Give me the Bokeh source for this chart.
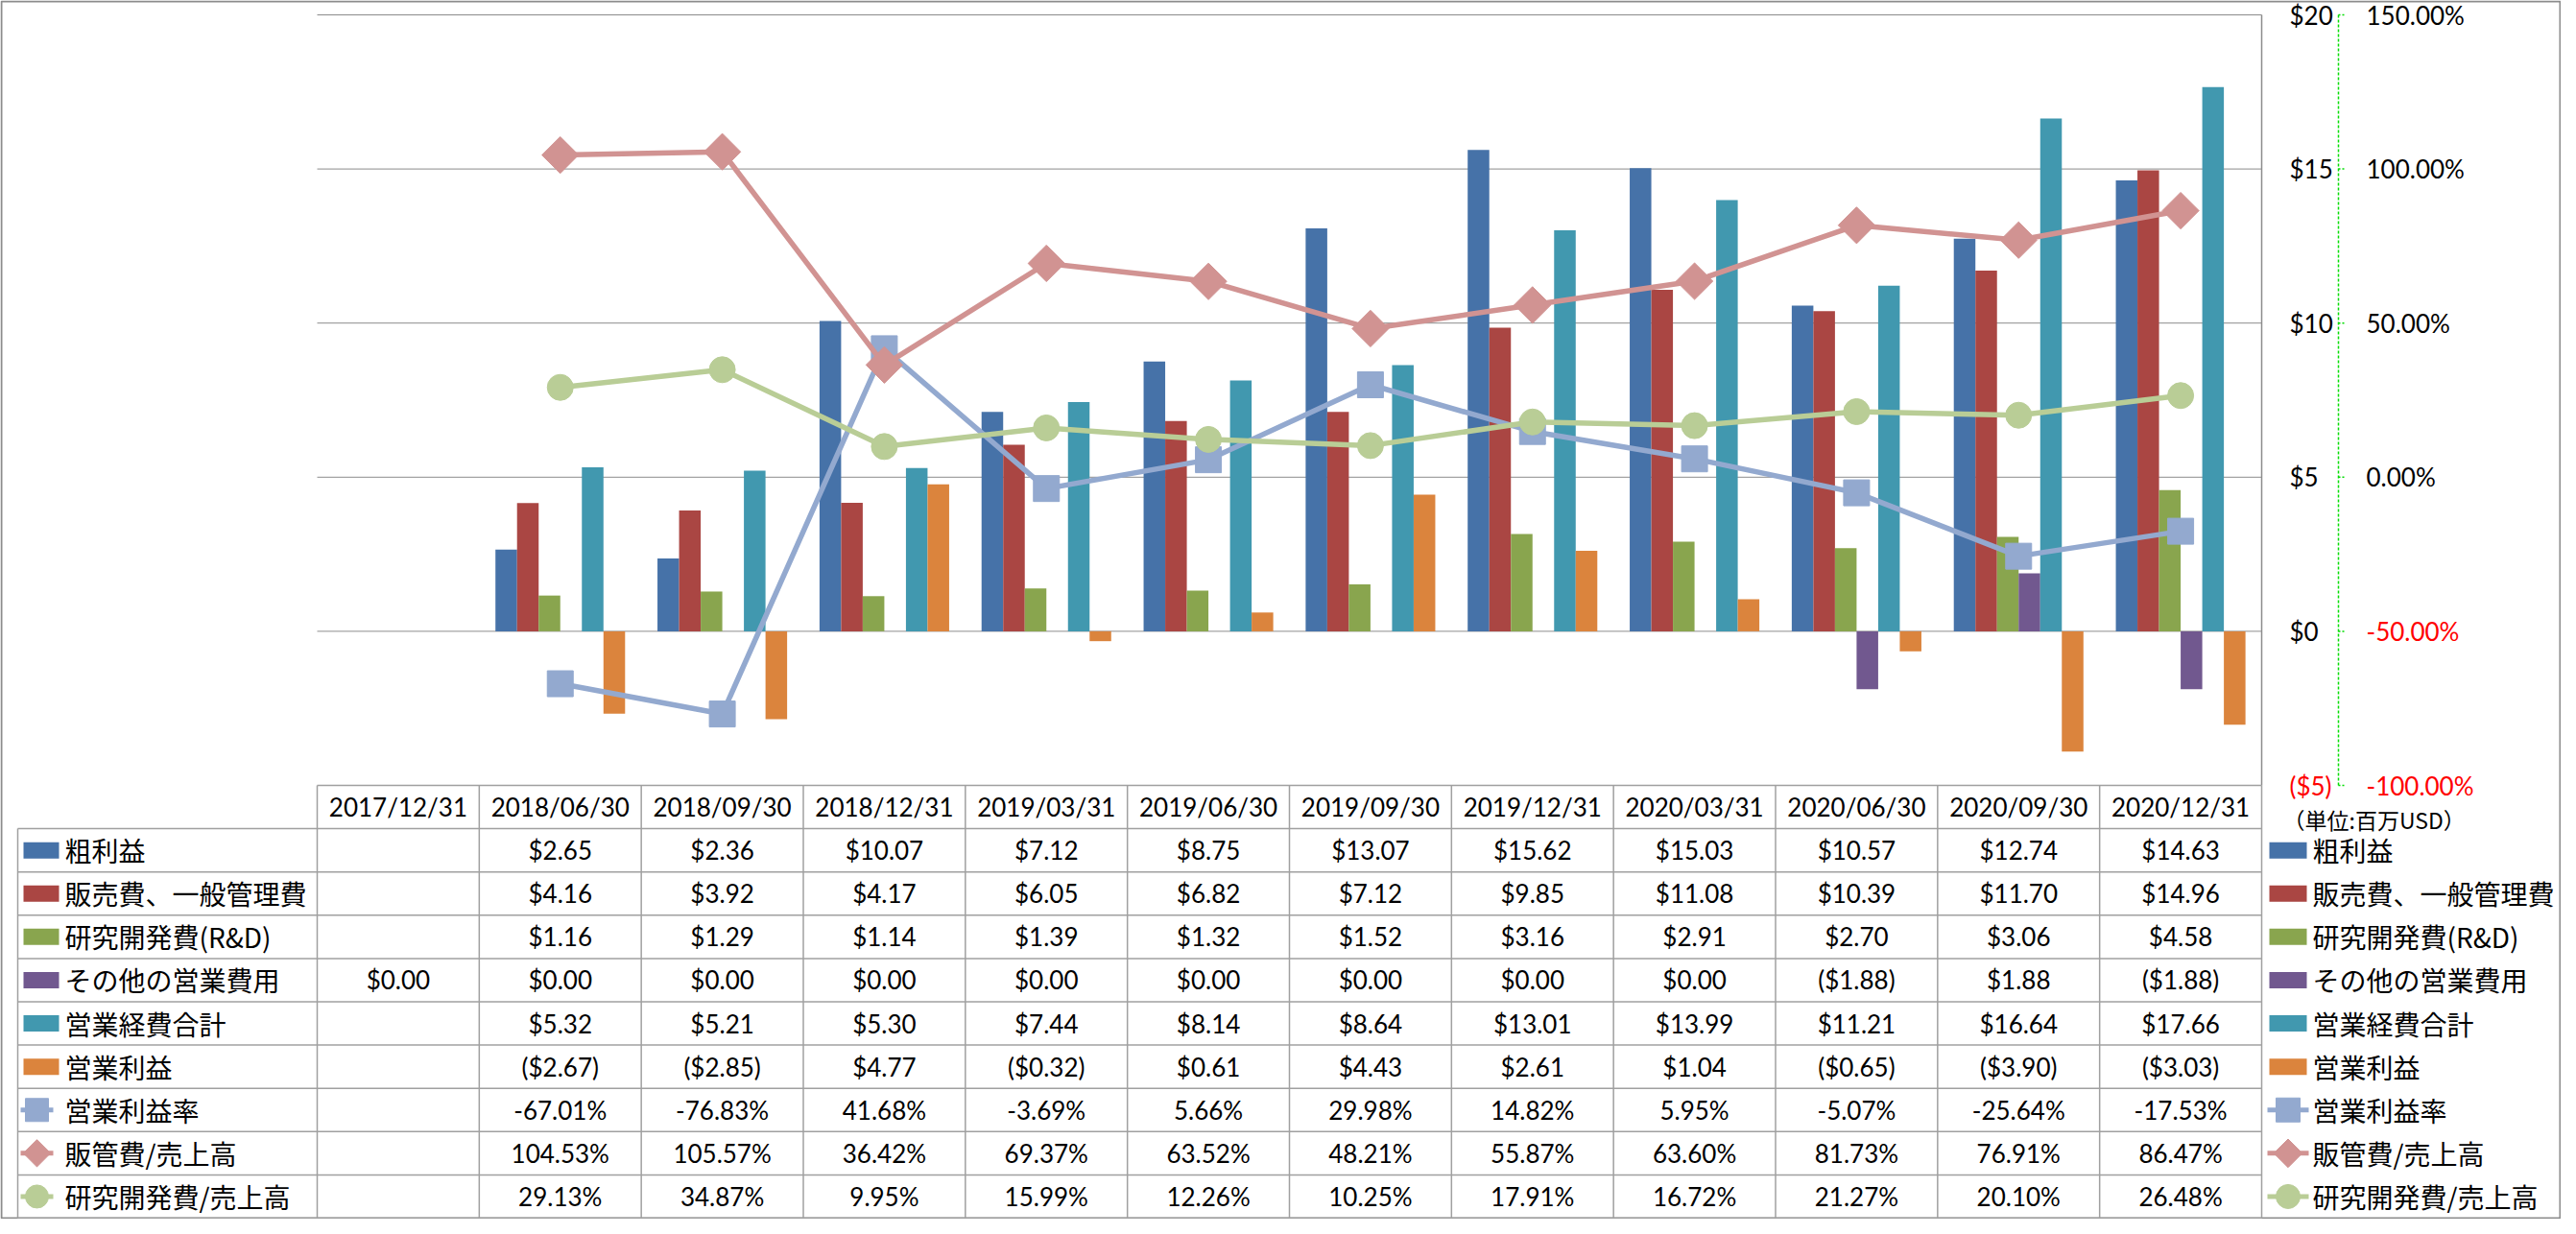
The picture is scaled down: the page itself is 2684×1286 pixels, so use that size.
import math
import numpy as np
from bokeh.plotting import figure
from bokeh.models import ColumnDataSource, Range1d
from bokeh.transform import dodge
from bokeh.core.properties import value
from bokeh.embed import file_html
from bokeh.resources import INLINE

# ---------------- data ----------------
dates = ["2017/12/31", "2018/06/30", "2018/09/30", "2018/12/31", "2019/03/31", "2019/06/30",
         "2019/09/30", "2019/12/31", "2020/03/31", "2020/06/30", "2020/09/30", "2020/12/31"]
gross_profit = [None, 2.65, 2.36, 10.07, 7.12, 8.75, 13.07, 15.62, 15.03, 10.57, 12.74, 14.63]
sga_expense = [None, 4.16, 3.92, 4.17, 6.05, 6.82, 7.12, 9.85, 11.08, 10.39, 11.70, 14.96]
rnd_expense = [None, 1.16, 1.29, 1.14, 1.39, 1.32, 1.52, 3.16, 2.91, 2.70, 3.06, 4.58]
other_opex = [0.00, 0.00, 0.00, 0.00, 0.00, 0.00, 0.00, 0.00, 0.00, -1.88, 1.88, -1.88]
total_opex = [None, 5.32, 5.21, 5.30, 7.44, 8.14, 8.64, 13.01, 13.99, 11.21, 16.64, 17.66]
operating_income = [None, -2.67, -2.85, 4.77, -0.32, 0.61, 4.43, 2.61, 1.04, -0.65, -3.90, -3.03]
op_margin_pct = [None, -67.01, -76.83, 41.68, -3.69, 5.66, 29.98, 14.82, 5.95, -5.07, -25.64, -17.53]
sga_ratio_pct = [None, 104.53, 105.57, 36.42, 69.37, 63.52, 48.21, 55.87, 63.60, 81.73, 76.91, 86.47]
rnd_ratio_pct = [None, 29.13, 34.87, 9.95, 15.99, 12.26, 10.25, 17.91, 16.72, 21.27, 20.10, 26.48]

bar_names = ["粗利益", "販売費、一般管理費", "研究開発費(R&D)", "その他の営業費用", "営業経費合計", "営業利益"]
bar_values = [gross_profit, sga_expense, rnd_expense, other_opex, total_opex, operating_income]
bar_colors = ["#4672A8", "#AA4643", "#89A54E", "#71588F", "#4198AF", "#DB843D"]
line_names = ["営業利益率", "販管費/売上高", "研究開発費/売上高"]
line_values = [op_margin_pct, sga_ratio_pct, rnd_ratio_pct]
line_colors = ["#93A9CF", "#D19392", "#B9CD96"]
line_markers = ["square", "square", "circle"]
line_angles = [0.0, math.pi / 4, 0.0]
usd_ticks = [-5, 0, 5, 10, 15, 20]
pct_ticks = [-100, -50, 0, 50, 100, 150]
unit_text = "（単位:百万USD）"

NUM_FONT = "Lato"
JP_FONT = "Noto Sans CJK JP"

# ---------------- layout (figure pixels) ----------------
W, H = 2668, 1270
COL_L, COL_R = 330, 2356          # date columns of the table / plot area
N = len(dates)
COLW = (COL_R - COL_L) / N


def px_to_x(px):
    return (px - COL_L) / COLW - 0.5


Y_TOP, Y_BOT = 15, 818            # pixel rows of the top and bottom value ticks
Y_MAX, Y_MIN = usd_ticks[-1], usd_ticks[0]
PXPU = (Y_BOT - Y_TOP) / (Y_MAX - Y_MIN)
y_start = Y_MIN - (H - Y_BOT) / PXPU
y_end = Y_MAX + Y_TOP / PXPU


def usd_to_pct(v):
    return (v - 5) * 10


ROW_TOP = 818
NROWS = len(bar_names) + len(line_names)
ROW_H = (H - 1 - ROW_TOP) / (NROWS + 1)
t_start = (H - ROW_TOP) / ROW_H
t_end = -ROW_TOP / ROW_H


def px_to_t(py):
    return (py - ROW_TOP) / ROW_H


def nanlist(a):
    return [np.nan if v is None else v for v in a]


p = figure(width=W, height=H, output_backend="svg", toolbar_location=None,
           x_range=Range1d(px_to_x(0), px_to_x(W)),
           y_range=Range1d(y_start, y_end),
           x_axis_location=None, y_axis_location=None,
           min_border_left=0, min_border_right=0, min_border_top=0, min_border_bottom=0,
           outline_line_color=None, background_fill_color="white", border_fill_color="white")
p.xgrid.visible = False
p.ygrid.visible = False
p.extra_y_ranges = {
    "pct": Range1d(usd_to_pct(y_start), usd_to_pct(y_end)),
    "table": Range1d(t_start, t_end),
}

x_first, x_last = -0.5, N - 0.5

# outer frame of the whole picture
p.rect(x=[px_to_x(W / 2)], y=[px_to_t(H / 2)], width=W - 2, height=H - 2, width_units="screen",
       height_units="screen", y_range_name="table", fill_color=None, line_color="#8C8C8C", line_width=2)

# chart gridlines and right border of the plot area
grid_vals = [v for v in usd_ticks if v > Y_MIN]
p.segment(x0=[x_first] * len(grid_vals), x1=[x_last] * len(grid_vals), y0=grid_vals, y1=grid_vals,
          line_color="#8C8C8C", line_width=1)
p.segment(x0=[x_last], x1=[x_last], y0=[Y_MIN], y1=[Y_MAX], line_color="#8C8C8C", line_width=1.5)

# data source
data = {"idx": list(range(N))}
for k, vals in enumerate(bar_values):
    data[f"b{k}"] = nanlist(vals)
for k, vals in enumerate(line_values):
    data[f"l{k}"] = nanlist(vals)
src = ColumnDataSource(data)

bw = 1 / 7.5
for k, (name, color) in enumerate(zip(bar_names, bar_colors)):
    off = (k - (len(bar_names) - 1) / 2) * bw
    p.vbar(x=dodge("idx", off), top=f"b{k}", width=bw, source=src, fill_color=color, line_color=None)

for k, (name, color, mk, ang) in enumerate(zip(line_names, line_colors, line_markers, line_angles)):
    p.line(x="idx", y=f"l{k}", source=src, y_range_name="pct", line_color=color, line_width=5.5)
    p.scatter(x="idx", y=f"l{k}", source=src, y_range_name="pct", marker=mk, angle=ang,
              size=27, fill_color=color, line_color=color)

# ---------------- right-hand value scales ----------------
AX_X = 2436
p.segment(x0=[px_to_x(AX_X)], x1=[px_to_x(AX_X)], y0=[Y_MIN], y1=[Y_MAX],
          line_color="#00DD00", line_width=1.5, line_dash="3 2")
p.segment(x0=[px_to_x(AX_X)] * len(usd_ticks), x1=[px_to_x(AX_X + 8)] * len(usd_ticks),
          y0=usd_ticks, y1=usd_ticks, line_color="#00DD00", line_width=1.5, line_dash="2 2")


def usd_label(v):
    return f"(${-v})" if v < 0 else f"${v}"


p.text(x=[px_to_x(2385)] * len(usd_ticks), y=usd_ticks, text=[usd_label(v) for v in usd_ticks],
       text_color=["#FF0000" if v < 0 else "#000000" for v in usd_ticks],
       text_align="left", text_baseline="middle",
       text_font=value(NUM_FONT), text_font_size=value("26px"))
p.text(x=[px_to_x(2465)] * len(pct_ticks), y=pct_ticks, y_range_name="pct",
       text=[f"{v:.2f}%" for v in pct_ticks],
       text_color=["#FF0000" if v < 0 else "#000000" for v in pct_ticks],
       text_align="left", text_baseline="middle",
       text_font=value(NUM_FONT), text_font_size=value("26px"))

# ---------------- table ----------------
tl = "#A0A0A0"
p.segment(x0=[x_first], x1=[x_last], y0=[0], y1=[0], y_range_name="table", line_color=tl, line_width=1.5)
x_tab_left = px_to_x(18)
hy = list(range(1, NROWS + 2))
p.segment(x0=[x_tab_left] * len(hy), x1=[x_last] * len(hy), y0=hy, y1=hy, y_range_name="table",
          line_color=tl, line_width=1.5)
vx = [i - 0.5 for i in range(N + 1)]
p.segment(x0=vx, x1=vx, y0=[0] * len(vx), y1=[NROWS + 1] * len(vx), y_range_name="table",
          line_color=tl, line_width=1.5)
p.segment(x0=[x_tab_left], x1=[x_tab_left], y0=[1], y1=[NROWS + 1], y_range_name="table",
          line_color=tl, line_width=1.5)


def fmt_usd(v):
    if v is None:
        return ""
    return f"(${-v:.2f})" if v < 0 else f"${v:.2f}"


def fmt_pct(v):
    return "" if v is None else f"{v:.2f}%"


cx, cy, ct = [], [], []
for i, d in enumerate(dates):
    cx.append(i); cy.append(0.5); ct.append(d)
for r, vals in enumerate(bar_values, start=1):
    for i, v in enumerate(vals):
        cx.append(i); cy.append(r + 0.5); ct.append(fmt_usd(v))
for r, vals in enumerate(line_values, start=1 + len(bar_values)):
    for i, v in enumerate(vals):
        cx.append(i); cy.append(r + 0.5); ct.append(fmt_pct(v))
p.text(x=cx, y=cy, text=ct, y_range_name="table", text_align="center", text_baseline="middle",
       text_font=value(NUM_FONT), text_font_size=value("26px"), text_color="#000000")

# ---------------- legends (left table column and right side) ----------------
lbl_names = bar_names + line_names


def draw_legend(sw_l, sw_w, ln_l, ln_r, txt_x, mk_size):
    sw_c = sw_l + sw_w / 2
    for r, color in enumerate(bar_colors, start=1):
        p.rect(x=[px_to_x(sw_c)], y=[r + 0.5], width=sw_w, height=17, width_units="screen",
               height_units="screen", y_range_name="table", fill_color=color, line_color=None)
    for k, (color, mk, ang) in enumerate(zip(line_colors, line_markers, line_angles)):
        ty = 1 + len(bar_colors) + k + 0.5
        p.segment(x0=[px_to_x(ln_l)], x1=[px_to_x(ln_r)], y0=[ty], y1=[ty], y_range_name="table",
                  line_color=color, line_width=5)
        p.scatter(x=[px_to_x((ln_l + ln_r) / 2)], y=[ty], y_range_name="table", marker=mk, angle=ang,
                  size=mk_size - (4 if ang else 0), fill_color=color, line_color=color)
    p.text(x=[px_to_x(txt_x)] * NROWS, y=[r + 1.5 for r in range(NROWS)], text=lbl_names,
           y_range_name="table", text_align="left", text_baseline="middle",
           text_font=value(JP_FONT), text_font_size=value("28px"), text_color="#000000")


draw_legend(24, 37, 21, 55, 67, 24)
draw_legend(2364, 39, 2362, 2405, 2409, 25)

p.text(x=[px_to_x(2378)], y=[px_to_t(853)], text=[unit_text], y_range_name="table",
       text_align="left", text_baseline="middle", text_font=value(JP_FONT),
       text_font_size=value("23px"), text_color="#000000")

open("out.html", "w").write(file_html(p, INLINE))
